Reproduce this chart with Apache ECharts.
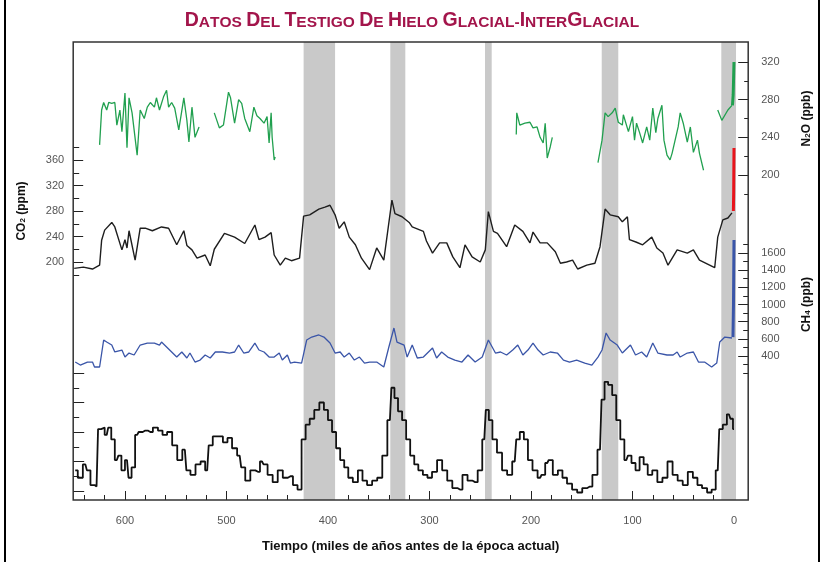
<!DOCTYPE html>
<html>
<head>
<meta charset="utf-8">
<script src="https://cdn.jsdelivr.net/npm/echarts@6/dist/echarts.min.js"></script>
<style>
  html, body { margin: 0; padding: 0; background: #fff; }
  #chart { width: 824px; height: 562px; }
</style>
</head>
<body>
<div id="chart"></div>
<script>
// time in thousands of years before present, value in axis units
const co2Record = [
  [650,190],[641,192],[632,189],[625,195],[623,234],[620,250],[613,262],[610,255],[603,219],[600,235],
  [598,222],[596,249],[590,203],[585,253],[580,253],[573,249],[564,255],[557,253],[549,227],[542,249],
  [539,226],[534,219],[529,206],[521,211],[516,194],[512,220],[502,245],[492,239],[482,229],[472,258],
  [468,235],[462,239],[456,246],[453,211],[447,195],[442,206],[436,202],[428,206],[424,272],[418,274],
  [409,283],[403,286],[398,289],[393,274],[389,253],[384,263],[379,239],[373,227],[367,206],[359,188],
  [352,222],[345,203],[341,250],[337,297],[334,276],[327,271],[320,262],[317,255],[306,248],[303,233],
  [297,214],[290,230],[283,230],[277,208],[270,191],[265,227],[258,208],[250,200],[245,219],[242,279],
  [237,248],[233,245],[224,224],[216,258],[208,248],[201,230],[198,247],[191,230],[184,230],[176,216],
  [171,198],[165,200],[159,203],[154,189],[145,195],[137,198],[132,224],[127,283],[122,274],[114,271],
  [110,263],[105,271],[103,235],[96,231],[90,227],[81,239],[76,222],[70,214],[65,195],[56,219],
  [46,214],[40,219],[34,203],[24,195],[19,191],[16,239],[11,266],[6,269],[2,277]
];
const co2Modern = [[0.6,280],[0.3,310],[0,379]];

// null marks a gap in the record
const n2oRecord = [
  [625,232],[623,269],[621,277],[618,269],[616,277],[613,276],[610,277],[608,253],[605,269],[603,246],
  [600,287],[598,229],[596,282],[593,266],[588,221],[585,269],[581,260],[578,272],[575,277],[571,272],
  [569,282],[566,269],[562,283],[559,290],[557,272],[554,277],[551,271],[547,248],[542,282],[539,258],
  [537,235],[534,272],[531,240],[527,251],
  [520,null],
  [512,266],[507,250],[503,253],[498,288],[496,282],[492,255],[488,280],[485,276],[482,260],[477,246],
  [473,272],[470,263],[467,260],[463,255],[460,262],[458,234],[456,266],[455,240],[453,216],[452,219],
  [300,null],
  [214.5,243],[214,266],[211,253],[206,255],[201,256],[198,250],[194,251],[191,240],[188,234],[186,255],
  [184,218],[181,230],[179,240],
  [150,null],
  [134,213],[130,237],[127,266],[124,262],[120,266],[117,271],[114,256],[110,253],[109,264],[104,246],
  [100,262],[98,237],[96,255],[93,245],[90,234],[86,251],[83,237],[80,271],[77,245],[75,260],
  [71,274],[69,237],[66,221],[63,216],[61,223],[55,251],[53,266],[50,255],[46,235],[43,251],
  [40,224],[36,237],[34,223],[30,205],
  [22,null],
  [16,269],[12,258],[6,269],[2,274]
];
const n2oModern = [[1.5,274],[0.8,285],[0,320]];

const ch4Record = [
  [649,330],[644,295],[637,330],[632,330],[630,272],[625,272],[621,586],[618,563],[613,528],[610,447],
  [603,470],[600,388],[596,435],[591,412],[585,528],[578,551],[571,551],[566,528],[564,563],[559,505],
  [554,447],[549,388],[544,447],[539,377],[536,435],[531,330],[526,353],[521,412],[516,377],[511,447],
  [504,447],[497,435],[492,447],[488,528],[483,435],[478,447],[472,551],[468,470],[463,447],[458,388],
  [453,388],[448,435],[445,353],[440,412],[437,318],[433,330],[426,318],[421,586],[416,621],[409,645],
  [404,621],[398,551],[393,435],[388,447],[384,388],[379,435],[374,353],[369,388],[364,318],[359,330],
  [352,330],[345,272],[340,505],[335,726],[332,563],[325,528],[322,388],[317,528],[312,377],[306,388],
  [297,493],[293,377],[288,447],[282,388],[275,353],[268,330],[262,412],[255,330],[248,388],[242,586],
  [235,435],[230,447],[224,412],[218,470],[213,528],[208,412],[203,470],[198,551],[193,470],[188,412],
  [181,447],[174,435],[168,353],[162,330],[155,353],[147,318],[140,295],[134,388],[130,470],[126,668],
  [122,586],[115,528],[110,435],[102,528],[97,412],[91,447],[86,388],[80,551],[75,435],[66,412],
  [60,412],[56,447],[53,388],[46,435],[40,447],[35,330],[29,330],[22,272],[17,318],[14,563],
  [9,621],[2,610]
];
const ch4Modern = [[1,620],[0.5,1000],[0,1750]];

const deuteriumRecord = [
  [649,-426],[644,-431],[639,-422],[636,-426],[632,-436],[628,-437],[625,-398],[622,-397],[618,-402],[615,-397],
  [612,-405],[608,-419],[605,-416],[602,-426],[598,-419],[595,-431],[592,-424],[588,-402],[585,-400],[580,-399],
  [575,-400],[570,-397],[565,-399],[561,-402],[556,-400],[551,-409],[546,-419],[541,-412],[538,-426],[533,-429],
  [528,-422],[523,-420],[519,-426],[516,-409],[511,-403],[506,-403],[501,-407],[497,-404],[492,-411],[487,-416],
  [484,-424],[479,-433],[474,-426],[469,-427],[465,-420],[462,-422],[457,-429],[452,-434],[447,-426],[442,-431],
  [437,-430],[432,-436],[428,-439],[424,-405],[420,-395],[416,-391],[411,-385],[406,-380],[402,-385],[398,-392],
  [394,-400],[390,-411],[386,-419],[382,-424],[378,-431],[373,-434],[368,-426],[364,-433],[359,-436],[354,-433],
  [349,-431],[344,-416],[339,-392],[336,-370],[333,-377],[329,-386],[325,-392],[321,-405],[317,-416],[313,-422],
  [309,-426],[304,-429],[300,-431],[295,-427],[290,-419],[285,-426],[280,-433],[275,-438],[270,-439],[265,-429],
  [260,-433],[255,-434],[250,-426],[246,-405],[243,-385],[240,-392],[236,-405],[231,-414],[226,-426],[221,-429],
  [216,-420],[213,-405],[209,-400],[205,-405],[201,-419],[196,-426],[191,-431],[188,-429],[184,-421],[181,-419],
  [176,-429],[171,-426],[167,-431],[162,-435],[157,-439],[152,-441],[147,-438],[142,-437],[137,-429],[132,-412],
  [129,-378],[126,-366],[122,-368],[118,-375],[114,-392],[110,-405],[106,-419],[103,-416],[99,-421],[95,-426],
  [91,-417],[87,-422],[83,-429],[78,-426],[73,-434],[68,-431],[63,-420],[58,-429],[53,-433],[48,-436],
  [43,-427],[38,-431],[34,-436],[29,-438],[24,-441],[20,-439],[16,-426],[13,-398],[9,-395],[5,-388],
  [2,-391],[0,-398]
];

// interglacial bands (start, end) in kyr BP
const bandStart = [424, 338.6, 245.3, 130.3, 12.5];
const bandEnd   = [393, 323.8, 238.7, 114, -2];

const titleText = 'Datos Del Testigo De Hielo Glacial-InterGlacial';
const xAxisTitle = 'Tiempo (miles de años antes de la época actual)';

const FONT = '"Liberation Sans", Arial, Helvetica, sans-serif';
const TICK = { color: '#222', width: 1 };
const LABEL = { color: '#555', fontSize: 11, fontFamily: FONT, formatter: v => String(v) };

// small caps title
const smallCaps = titleText.split('').map(c => {
  if (c === ' ') return '{b| }';
  if (c !== '-' && c === c.toUpperCase()) return '{a|' + c + '}';
  return '{b|' + c.toUpperCase() + '}';
}).join('');

const gridBox = (top, height, left, width) => ({
  left: left === undefined ? 73.2 : left,
  width: width === undefined ? 675 : width,
  top: top, height: height, outerBoundsMode: 'none', containLabel: false
});

const dataX = (g) => ({
  type: 'value', gridIndex: g, min: -14, max: 651, inverse: true, show: false,
  axisLine: { onZero: false }
});
const blankY = (g) => ({ type: 'value', gridIndex: g, min: 0, max: 1, show: false, axisLine: { onZero: false } });

const nameRich = {
  s: { fontSize: 8, fontWeight: 'bold', fontFamily: FONT, color: '#111', verticalAlign: 'bottom' }
};

const yTicks = (g, pos, min, max, step, len, withLabels, name) => {
  const ax = {
    type: 'value', gridIndex: g, position: pos, min: min, max: max, interval: step,
    axisLine: { show: false, onZero: false },
    axisTick: { show: true, inside: true, length: len, lineStyle: TICK },
    splitLine: { show: false },
    axisLabel: Object.assign({ show: withLabels, margin: pos === 'left' ? 9 : 13 }, LABEL)
  };
  if (name) {
    Object.assign(ax, {
      name: name, nameLocation: 'middle', nameRotate: 90,
      nameGap: pos === 'left' ? 46 : 52,
      nameTextStyle: { fontSize: 12, fontWeight: 'bold', fontFamily: FONT, color: '#111', rich: nameRich }
    });
  }
  return ax;
};

const chart = echarts.init(document.getElementById('chart'), null, { renderer: 'canvas' });

const option = {
  animation: false,
  backgroundColor: '#fff',
  title: {
    left: 'center', top: 6,
    text: smallCaps,
    textStyle: {
      fontSize: 15,
      rich: {
        a: { fontSize: 19.5, fontWeight: 'bold', fontFamily: FONT, color: '#a3154b', verticalAlign: 'bottom' },
        b: { fontSize: 15.5, fontWeight: 'bold', fontFamily: FONT, color: '#a3154b', verticalAlign: 'bottom' }
      }
    }
  },
  grid: [
    gridBox(42, 458),                 // 0 frame + bands
    gridBox(42, 458, 84.4, 649.6),    // 1 minor time ticks (0..640)
    gridBox(42, 458, 125, 609),       // 2 major time ticks (0..600)
    gridBox(62, 131.8),               // 3 N2O data 180..320
    gridBox(62, 113),                 // 4 N2O labels 200..320
    gridBox(147.25, 127.5),           // 5 CO2 data 180..380
    gridBox(160, 102),                // 6 CO2 labels 200..360
    gridBox(244.4, 128.8),            // 7 CH4 data 200..1700
    gridBox(253, 103),                // 8 CH4 labels 400..1600
    gridBox(373, 118)                 // 9 deuterium -440..-360
  ],
  xAxis: [
    {
      type: 'value', gridIndex: 0, min: -14, max: 651, inverse: true,
      axisLine: { show: false, onZero: false }, axisTick: { show: false }, axisLabel: { show: false },
      splitLine: { show: false },
      name: xAxisTitle, nameLocation: 'middle', nameGap: 40,
      nameTextStyle: { fontSize: 13, fontWeight: 'bold', fontFamily: FONT, color: '#111' }
    },
    {
      type: 'value', gridIndex: 1, min: 0, max: 640, interval: 20, inverse: true,
      axisLine: { show: false, onZero: false }, splitLine: { show: false }, axisLabel: { show: false },
      axisTick: { show: true, inside: true, length: 5, lineStyle: TICK }
    },
    {
      type: 'value', gridIndex: 2, min: 0, max: 600, interval: 100, inverse: true,
      axisLine: { show: false, onZero: false }, splitLine: { show: false },
      axisTick: { show: true, inside: true, length: 9, lineStyle: TICK },
      axisLabel: Object.assign({ margin: 15 }, LABEL)
    },
    dataX(3), dataX(4), dataX(5), dataX(6), dataX(7), dataX(8), dataX(9)
  ],
  yAxis: [
    blankY(0), blankY(1), blankY(2),
    yTicks(3, 'right', 180, 320, 20, 4, false),
    yTicks(4, 'right', 200, 320, 40, 10, true, 'N{s|2}O (ppb)'),
    yTicks(5, 'left', 180, 380, 20, 6, false),
    yTicks(6, 'left', 200, 360, 40, 10, true, 'CO{s|2} (ppm)'),
    yTicks(7, 'right', 200, 1700, 100, 5, false),
    yTicks(8, 'right', 400, 1600, 200, 10, true, 'CH{s|4} (ppb)'),
    yTicks(9, 'left', -440, -360, 10, 6, false),
    yTicks(9, 'left', -440, -360, 20, 11, false)
  ],
  series: [
    {
      type: 'line', xAxisIndex: 0, yAxisIndex: 0, data: [[300, -5]], symbol: 'none',
      lineStyle: { width: 0 }, silent: true, z: 1,
      markArea: {
        silent: true,
        itemStyle: { color: '#c9c9c9' },
        data: bandStart.map((s, i) => [{ xAxis: s }, { xAxis: bandEnd[i] }])
      }
    },
    {
      name: 'CO2', type: 'line', xAxisIndex: 5, yAxisIndex: 5, data: co2Record,
      symbol: 'none', z: 3, lineStyle: { color: '#1e1e1e', width: 1.4 }
    },
    {
      name: 'CO2 modern', type: 'line', xAxisIndex: 5, yAxisIndex: 5, data: co2Modern,
      symbol: 'none', z: 4, lineStyle: { color: '#e8141c', width: 3 }
    },
    {
      name: 'N2O', type: 'line', xAxisIndex: 3, yAxisIndex: 3,
      data: n2oRecord.map(d => [d[0], d[1] === null ? '-' : d[1]]),
      connectNulls: false, symbol: 'none', z: 3, lineStyle: { color: '#21a04f', width: 1.3 }
    },
    {
      name: 'N2O modern', type: 'line', xAxisIndex: 3, yAxisIndex: 3, data: n2oModern,
      symbol: 'none', z: 4, lineStyle: { color: '#21a04f', width: 3 }
    },
    {
      name: 'CH4', type: 'line', xAxisIndex: 7, yAxisIndex: 7, data: ch4Record,
      symbol: 'none', z: 3, lineStyle: { color: '#3a55a8', width: 1.3 }
    },
    {
      name: 'CH4 modern', type: 'line', xAxisIndex: 7, yAxisIndex: 7, data: ch4Modern, clip: false,
      symbol: 'none', z: 4, lineStyle: { color: '#3a55a8', width: 3 }
    },
    {
      name: 'deuterium', type: 'line', step: 'middle', xAxisIndex: 9, yAxisIndex: 9,
      data: deuteriumRecord, clip: false,
      symbol: 'none', z: 3, lineStyle: { color: '#111', width: 1.8 }
    }
  ],
  graphic: [
    { type: 'rect', z: 100, silent: true, shape: { x: 73.2, y: 42, width: 675, height: 458 },
      style: { fill: 'none', stroke: '#333', lineWidth: 1.5 } },
    { type: 'line', z: 100, silent: true, shape: { x1: 5, y1: 0, x2: 5, y2: 562 },
      style: { stroke: '#000', lineWidth: 2 } },
    { type: 'line', z: 100, silent: true, shape: { x1: 819, y1: 0, x2: 819, y2: 562 },
      style: { stroke: '#000', lineWidth: 2 } }
  ]
};

chart.setOption(option);
</script>
</body>
</html>
